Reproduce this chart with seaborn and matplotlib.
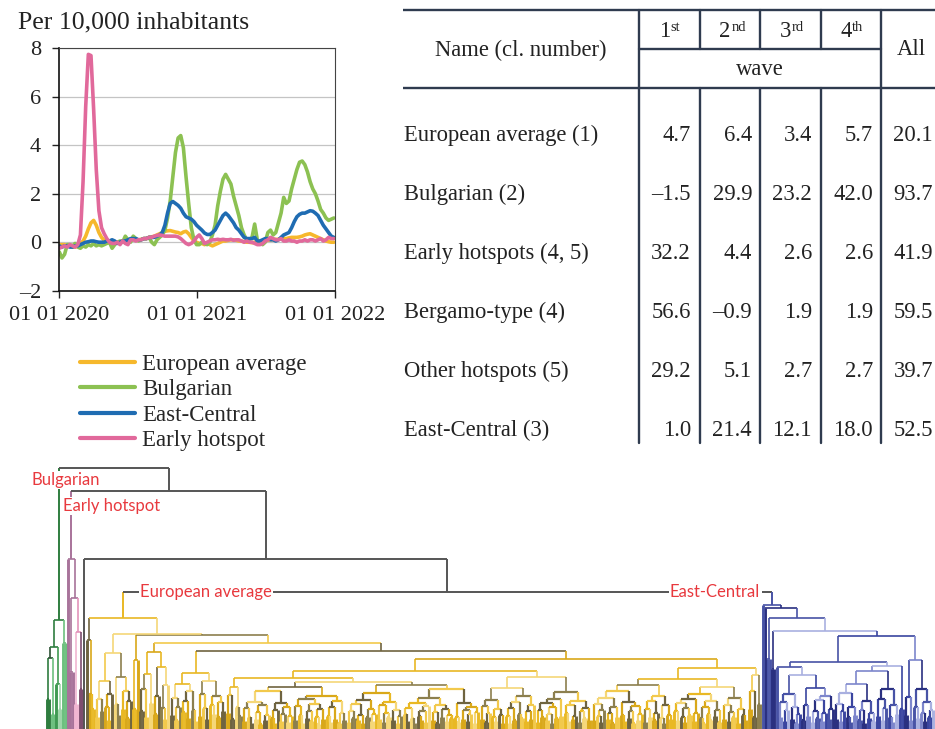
import numpy as np
import pandas as pd
import matplotlib
matplotlib.use("Agg")
import matplotlib.pyplot as plt
from matplotlib.collections import LineCollection
import seaborn as sns

sns.set_theme(style="white")
plt.rcParams["font.family"] = ["Liberation Serif", "DejaVu Serif"]

# weekly values per 10,000 inhabitants
first_week = "2020-01-01"
european_average = [
    -0.1, -0.1, -0.1, -0.15, -0.15, -0.2, -0.2, -0.15, -0.05, 0.05,
    0.25, 0.55, 0.8, 0.9, 0.7, 0.4, 0.2, 0.08, 0.0, -0.02,
    0.0, 0.0, 0.0, 0.02, 0.05, 0.05, 0.05, 0.08, 0.1, 0.1,
    0.1, 0.12, 0.15, 0.15, 0.2, 0.22, 0.25, 0.3, 0.35, 0.4,
    0.45, 0.47, 0.48, 0.45, 0.42, 0.4, 0.35, 0.42, 0.45, 0.35,
    0.2, 0.05, 0.0, -0.05, -0.05, -0.1, -0.05, -0.1, -0.15, -0.1,
    -0.05, 0.0, 0.05, 0.05, 0.08, 0.1, 0.1, 0.08, 0.05, 0.05,
    0.02, 0.0, 0.0, -0.02, 0.0, 0.0, 0.02, 0.05, 0.05, 0.08,
    0.1, 0.1, 0.12, 0.12, 0.15, 0.15, 0.15, 0.18, 0.2, 0.2,
    0.2, 0.22, 0.25, 0.3, 0.33, 0.35, 0.3, 0.25, 0.2, 0.15,
    0.1, 0.05, 0.02, 0.0, 0.0,
]
bulgarian = [
    -0.4, -0.65, -0.5, -0.1, -0.1, -0.15, -0.05, -0.2, -0.25, -0.15,
    -0.2, -0.1, -0.15, -0.05, -0.15, -0.1, -0.15, -0.1, -0.05, 0.0,
    -0.25, -0.1, 0.0, 0.05, 0.0, 0.25, 0.1, 0.0, 0.25, 0.15,
    0.05, 0.1, 0.15, 0.15, 0.2, 0.0, -0.1, 0.1, 0.2, 0.3,
    0.5, 1.0, 1.7, 2.7, 3.7, 4.3, 4.4, 3.9, 2.7, 1.6,
    0.6, 0.1, -0.1, -0.1, 0.0, -0.05, -0.1, 0.0, 0.3, 0.7,
    1.5, 2.1, 2.6, 2.8, 2.6, 2.4, 1.9, 1.5, 1.1, 0.6,
    0.3, 0.1, 0.1, 0.2, 0.75, 0.1, 0.0, -0.1, 0.0, 0.4,
    0.5, 0.3, 0.4, 0.8, 1.2, 1.85, 1.6, 1.7, 2.2, 2.6,
    3.0, 3.3, 3.35, 3.2, 2.9, 2.5, 2.2, 2.0, 1.7, 1.35,
    1.2, 1.0, 0.9, 0.95, 1.0,
]
east_central = [
    -0.15, -0.2, -0.15, -0.15, -0.2, -0.2, -0.15, -0.15, -0.1, -0.05,
    0.0, 0.02, 0.05, 0.05, 0.02, 0.0, 0.0, 0.0, 0.05, 0.05,
    0.1, 0.05, -0.05, 0.0, 0.05, 0.05, 0.1, 0.15, 0.15, 0.15,
    0.1, 0.1, 0.15, 0.15, 0.2, 0.2, 0.2, 0.25, 0.3, 0.4,
    0.7, 1.2, 1.6, 1.68, 1.6, 1.52, 1.4, 1.2, 1.05, 1.0,
    0.95, 0.85, 0.7, 0.6, 0.5, 0.38, 0.32, 0.32, 0.4, 0.5,
    0.7, 0.9, 1.1, 1.2, 1.1, 0.95, 0.8, 0.6, 0.5, 0.35,
    0.2, 0.15, 0.15, 0.15, 0.2, 0.05, 0.05, 0.1, 0.15, 0.15,
    0.1, 0.1, 0.05, 0.1, 0.2, 0.3, 0.35, 0.4, 0.6, 0.85,
    1.05, 1.15, 1.2, 1.2, 1.25, 1.3, 1.28, 1.2, 1.1, 0.9,
    0.7, 0.55, 0.4, 0.25, 0.2,
]
early_hotspot = [
    -0.25, -0.2, -0.15, -0.2, -0.1, -0.15, -0.2, -0.1, 0.3, 2.5,
    5.6, 7.75, 7.7, 5.5, 3.0, 1.3, 0.6, 0.35, 0.15, 0.0,
    -0.05, -0.05, 0.0, -0.1, 0.05, -0.05, -0.1, 0.1, 0.1, 0.05,
    0.1, 0.1, 0.15, 0.15, 0.2, 0.2, 0.25, 0.28, 0.3, 0.28,
    0.25, 0.25, 0.25, 0.25, 0.25, 0.22, 0.15, 0.05, -0.05, -0.1,
    -0.05, 0.05, 0.2, 0.3, 0.15, -0.05, 0.0, 0.05, 0.1, 0.1,
    0.12, 0.1, 0.12, 0.1, 0.1, 0.12, 0.08, 0.1, 0.1, 0.05,
    0.0, 0.05, 0.0, 0.0, -0.05, -0.1, -0.1, -0.05, 0.05, 0.1,
    0.2, 0.15, 0.1, 0.1, 0.15, 0.05, 0.05, 0.1, 0.05, 0.05,
    0.0, 0.05, 0.05, 0.1, 0.05, 0.1, 0.1, 0.05, 0.1, 0.15,
    0.05, 0.1, 0.2, 0.15, 0.15,
]
series_names = ["European average", "Bulgarian", "East-Central", "Early hotspot"]
series_colors = ["#f6b82c", "#8cc152", "#1f6cb2", "#e1699b"]
date_ticks = ["2020-01-01", "2021-01-01", "2022-01-01"]
date_labels = ["01 01 2020", "01 01 2021", "01 01 2022"]

# table
row_names = ["European average (1)", "Bulgarian (2)", "Early hotspots (4, 5)",
             "Bergamo-type (4)", "Other hotspots (5)", "East-Central (3)"]
wave_1 = [4.7, -1.5, 32.2, 56.6, 29.2, 1.0]
wave_2 = [6.4, 29.9, 4.4, -0.9, 5.1, 21.4]
wave_3 = [3.4, 23.2, 2.6, 1.9, 2.7, 12.1]
wave_4 = [5.7, 42.0, 2.6, 1.9, 2.7, 18.0]
all_waves = [20.1, 93.7, 41.9, 59.5, 39.7, 52.5]
wave_labels = [("1", "st"), ("2", "nd"), ("3", "rd"), ("4", "th")]

# dendrogram: merge height between each pair of neighbouring leaves, left to right
green_gaps = [30, 71, 15, 82, 45, 20, 109, 86]
pink_gaps = [170, 57, 131, 25, 97, 40]
yellow_a = [89, 35, 20]
yellow_b = [12, 30, 18, 48, 22, 9, 35, 76, 25, 14, 52, 20, 38, 11, 28]
yellow_c = [20, 69]
yellow_d = [18, 40, 12, 55, 26, 77, 15, 33, 62, 21, 10, 44]
yellow_e = [14, 31, 9, 22, 45, 17, 28, 11, 38, 19, 8, 56, 13, 35, 21, 10, 48, 24,
            15, 33, 12, 27, 18]
yellow_f = [16, 34, 10, 42, 22, 13]
yellow_g = [8, 21, 12, 6, 27, 10, 17, 5, 24, 9, 14, 38, 11, 6, 19, 26, 8, 15, 22, 7,
            13, 42, 9, 23, 14, 6, 30, 11, 18, 8, 25, 12, 5, 20, 10, 33, 13, 7, 22, 10,
            28, 6, 16, 9, 47, 7, 18, 11, 25, 9, 14, 6, 29, 12, 20, 8, 15, 36, 10, 24,
            7, 16, 12, 27, 9, 19, 6, 13, 44, 15, 8, 21, 11, 6, 26, 13, 9, 18, 7, 23,
            31, 9, 17, 6, 24, 12, 20, 8, 14, 11, 40, 12, 7, 26, 10, 19, 8, 15, 22, 6, 17]
yellow_h = [10, 23, 7, 16, 29, 12, 8, 20, 14, 6, 41, 13, 6, 21, 9, 27, 15, 11, 33, 8,
            18, 10, 24, 52, 7, 19, 12, 26, 9, 15, 6, 22, 11, 30, 13, 37, 16, 8, 24, 10,
            13, 28, 7, 18, 11, 21, 9]
yellow_i = [9, 25, 13, 7, 19, 31, 10, 16, 6, 22, 12, 38, 14, 8, 27, 11, 18, 6, 23, 9,
            15, 44, 7, 20, 12, 28, 9, 16, 33, 11, 6, 24, 14, 10, 50, 18, 9, 26, 12, 7,
            21, 14, 30, 8, 16, 35, 11, 6, 22, 15, 9, 28, 13, 19, 7, 42, 10, 24, 8, 17,
            12, 31, 6, 20, 14, 9, 61, 20, 38, 12, 54, 25]
yellow_joins = [111, 95, 94, 86, 78, 51, 58, 70]
blue_gaps = [124, 121, 70, 111, 60, 98,
             62, 12, 27, 8, 19, 35, 10, 22, 6, 15, 54, 9, 24, 13, 41, 7, 18, 11, 29, 8,
             16, 33, 10, 20,
             67,
             10, 25, 8, 18, 36, 12, 7, 22, 14, 45, 9, 19, 6, 28, 11, 16, 8, 58, 13, 30,
             9, 21, 40, 12, 7, 24, 15, 63, 20,
             93,
             14, 32, 9, 69, 22, 11, 40, 16, 8, 27, 12, 19]
join_green = 261
join_pink = 238
join_gray = 170
join_yellow_blue = 137

palettes = {
    "green": ["#2f7d3f", "#6cc07e", "#2c5234", "#9fd6aa", "#3f9a52"],
    "pink": ["#a8739a", "#f1b6d2", "#7d4d6e", "#e393bb"],
    "yellow": ["#e9b824", "#d9a81a", "#6f6440", "#f2c94c", "#8c7f4e", "#f5d778"],
    "blue": ["#4853a6", "#2a3080", "#7d86cc", "#3a45a0", "#a9b0e0"],
}
link_gray = "#555555"
label_red = "#e8393e"


def plot_waves(fig):
    ax = fig.add_axes([59.3 / 935, 1 - 290.7 / 729, 275.7 / 935, 242.4 / 729])
    dates = pd.date_range(first_week, periods=len(european_average), freq="7D")
    df = pd.DataFrame({
        "date": np.tile(dates, 4),
        "value": np.concatenate([european_average, bulgarian, east_central, early_hotspot]),
        "cluster": np.repeat(series_names, len(dates)),
    })
    sns.lineplot(data=df, x="date", y="value", hue="cluster", hue_order=series_names,
                 palette=dict(zip(series_names, series_colors)), linewidth=2.6, ax=ax)
    for line in ax.lines:
        line.set_solid_joinstyle("round")
        line.set_solid_capstyle("round")

    ax.set_xlim(pd.Timestamp("2020-01-01"), pd.Timestamp("2022-01-01"))
    ax.set_ylim(-2, 8)
    ax.set_yticks([-2, 0, 2, 4, 6, 8])
    ax.set_yticklabels(["\u20132", "0", "2", "4", "6", "8"])
    ax.set_xticks(pd.to_datetime(date_ticks))
    ax.set_xticklabels(date_labels)
    ax.set_xlabel("")
    ax.set_ylabel("")
    ax.yaxis.grid(True, color="#c4c4c4", linewidth=0.9)
    ax.xaxis.grid(False)
    ax.set_axisbelow(True)
    ax.tick_params(axis="y", length=5, width=1, pad=8, labelsize=16, colors="#222222",
                   left=True, direction="out")
    ax.tick_params(axis="x", length=5, width=1, pad=6, labelsize=16, colors="#222222",
                   bottom=True, direction="out")
    for side in ["left", "bottom"]:
        ax.spines[side].set_color("#111111")
        ax.spines[side].set_linewidth(1.2)
    for side in ["top", "right"]:
        ax.spines[side].set_color("#444444")
        ax.spines[side].set_linewidth(0.8)

    handles, labels = ax.get_legend_handles_labels()
    for h in handles:
        h.set_linewidth(3.0)
    ax.legend(handles, labels, loc="upper left", bbox_to_anchor=(0.075, -0.262),
              frameon=False, borderpad=0, borderaxespad=0, handlelength=2.4,
              handletextpad=0.3, labelspacing=0.18, fontsize=16.5)
    fig.text(18 / 935, 1 - 28 / 729, "Per 10,000 inhabitants", fontsize=18.5,
             ha="left", va="baseline", color="#222222")


def draw_table(fig):
    tx = fig.add_axes([0, 0, 1, 1])
    tx.set_facecolor("none")
    tx.set_xlim(0, 935)
    tx.set_ylim(729, 0)
    tx.axis("off")
    ink = "#2f3b4f"
    col_lines = [639, 700, 760, 821, 881]
    tx.plot([403, 935], [10, 10], color=ink, lw=1.7, solid_capstyle="butt")
    tx.plot([403, 935], [88, 88], color=ink, lw=1.7, solid_capstyle="butt")
    tx.plot([639, 881], [49, 49], color=ink, lw=1.7, solid_capstyle="butt")
    for i, x in enumerate(col_lines):
        tx.plot([x, x], [10, 49], color=ink, lw=1.7)
        tx.plot([x, x], [88, 443], color=ink, lw=1.7)
        if i in (0, 4):
            tx.plot([x, x], [49, 88], color=ink, lw=1.7)

    txt = dict(color="#222222", fontsize=16.3)
    tx.text(521, 50, "Name (cl. number)", ha="center", va="center", **txt)
    for i, (num, suf) in enumerate(wave_labels):
        cx = (col_lines[i] + col_lines[i + 1]) / 2
        tx.text(cx + 0.5, 37, num, ha="right", va="baseline", **txt)
        tx.text(cx + 1.2, 31, suf, ha="left", va="baseline", color="#222222", fontsize=10.5)
    tx.text(760, 69, "wave", ha="center", va="center", **txt)
    tx.text(911, 49, "All", ha="center", va="center", **txt)

    row_y = [135, 194.5, 253.5, 312.5, 371.5, 430.5]
    value_right = [691, 752, 812, 873, 933]
    columns = [wave_1, wave_2, wave_3, wave_4, all_waves]
    for r, name in enumerate(row_names):
        tx.text(404, row_y[r], name, ha="left", va="center", **txt)
        for c, col in enumerate(columns):
            label = f"{col[r]:.1f}".replace("-", "\u2013")
            tx.text(value_right[c], row_y[r], label, ha="right", va="center", **txt)


def draw_dendrogram(fig):
    yellow_blocks = [yellow_a, yellow_b, yellow_c, yellow_d, yellow_e, yellow_f,
                     yellow_g, yellow_h, yellow_i]
    yellow_gaps = list(yellow_blocks[0])
    for join, block in zip(yellow_joins, yellow_blocks[1:]):
        yellow_gaps += [join] + block
    all_gaps = np.array(green_gaps + [join_green] + pink_gaps + [join_pink, join_gray]
                        + yellow_gaps + [join_yellow_blue] + blue_gaps, dtype=float)
    keys = ["green", "pink", "gray", "yellow", "blue"]
    sizes = [len(green_gaps) + 1, len(pink_gaps) + 1, 1, len(yellow_gaps) + 1,
             len(blue_gaps) + 1]
    leaf_cluster = np.repeat(np.arange(len(keys)), sizes)
    bounds = np.cumsum([0] + sizes)
    n_leaves = len(all_gaps) + 1

    counters = {k: 0 for k in keys}
    segs, cols, lws = [], [], []
    roots = {}

    def build(lo, hi):
        if lo == hi:
            return float(lo), 0.0, None
        k = lo + int(np.argmax(all_gaps[lo:hi]))
        xl, hl, cl = build(lo, k)
        xr, hr, cr = build(k + 1, hi)
        h = all_gaps[k]
        c0, c1 = leaf_cluster[lo], leaf_cluster[hi]
        if c0 == c1:
            key = keys[c0]
            pal = palettes[key]
            if lo == bounds[c0] and hi == bounds[c0 + 1] - 1:
                color = pal[0]
                roots[key] = (xl + xr) / 2
            else:
                color = pal[counters[key] % len(pal)]
                counters[key] += 1
            lw = 1.2 if h > 40 else 1.6
            leaf_lw = 2.1
        else:
            color, lw, leaf_lw = link_gray, 1.4, 1.4
        segs.append([(xl, hl), (xl, h)])
        cols.append(cl if cl is not None else color)
        lws.append(leaf_lw if cl is None else lw)
        segs.append([(xl, h), (xr, h)])
        cols.append(color)
        lws.append(lw)
        segs.append([(xr, hr), (xr, h)])
        cols.append(cr if cr is not None else color)
        lws.append(leaf_lw if cr is None else lw)
        return (xl + xr) / 2, h, color

    build(0, n_leaves - 1)

    step = (933 - 47) / (n_leaves - 1)
    dax = fig.add_axes([0, 0, 1, 274 / 729])
    dax.set_xlim(-47 / step, (935 - 47) / step)
    dax.set_ylim(0, 274)
    dax.axis("off")
    dax.add_collection(LineCollection(segs, colors=cols, linewidths=lws,
                                      capstyle="butt"))

    lab = dict(color=label_red, fontsize=12, family=["Lato", "DejaVu Sans"], zorder=5,
               bbox=dict(boxstyle="square,pad=0.08", fc="white", ec="none"))
    dax.text(roots["green"] + 2.6, join_green - 12, "Bulgarian", ha="center", va="center", **lab)
    dax.text(roots["pink"] - 3.6, join_pink - 15, "Early hotspot", ha="left", va="center", **lab)
    dax.text(roots["yellow"] + 7.3, join_yellow_blue, "European average", ha="left",
             va="center", **lab)
    dax.text(roots["blue"] - 5.0, join_yellow_blue, "East-Central", ha="right",
             va="center", **lab)


fig = plt.figure(figsize=(9.35, 7.29), dpi=100)
fig.patch.set_facecolor("white")
draw_dendrogram(fig)
plot_waves(fig)
draw_table(fig)
fig.savefig("out.png", dpi=100, facecolor="white")
